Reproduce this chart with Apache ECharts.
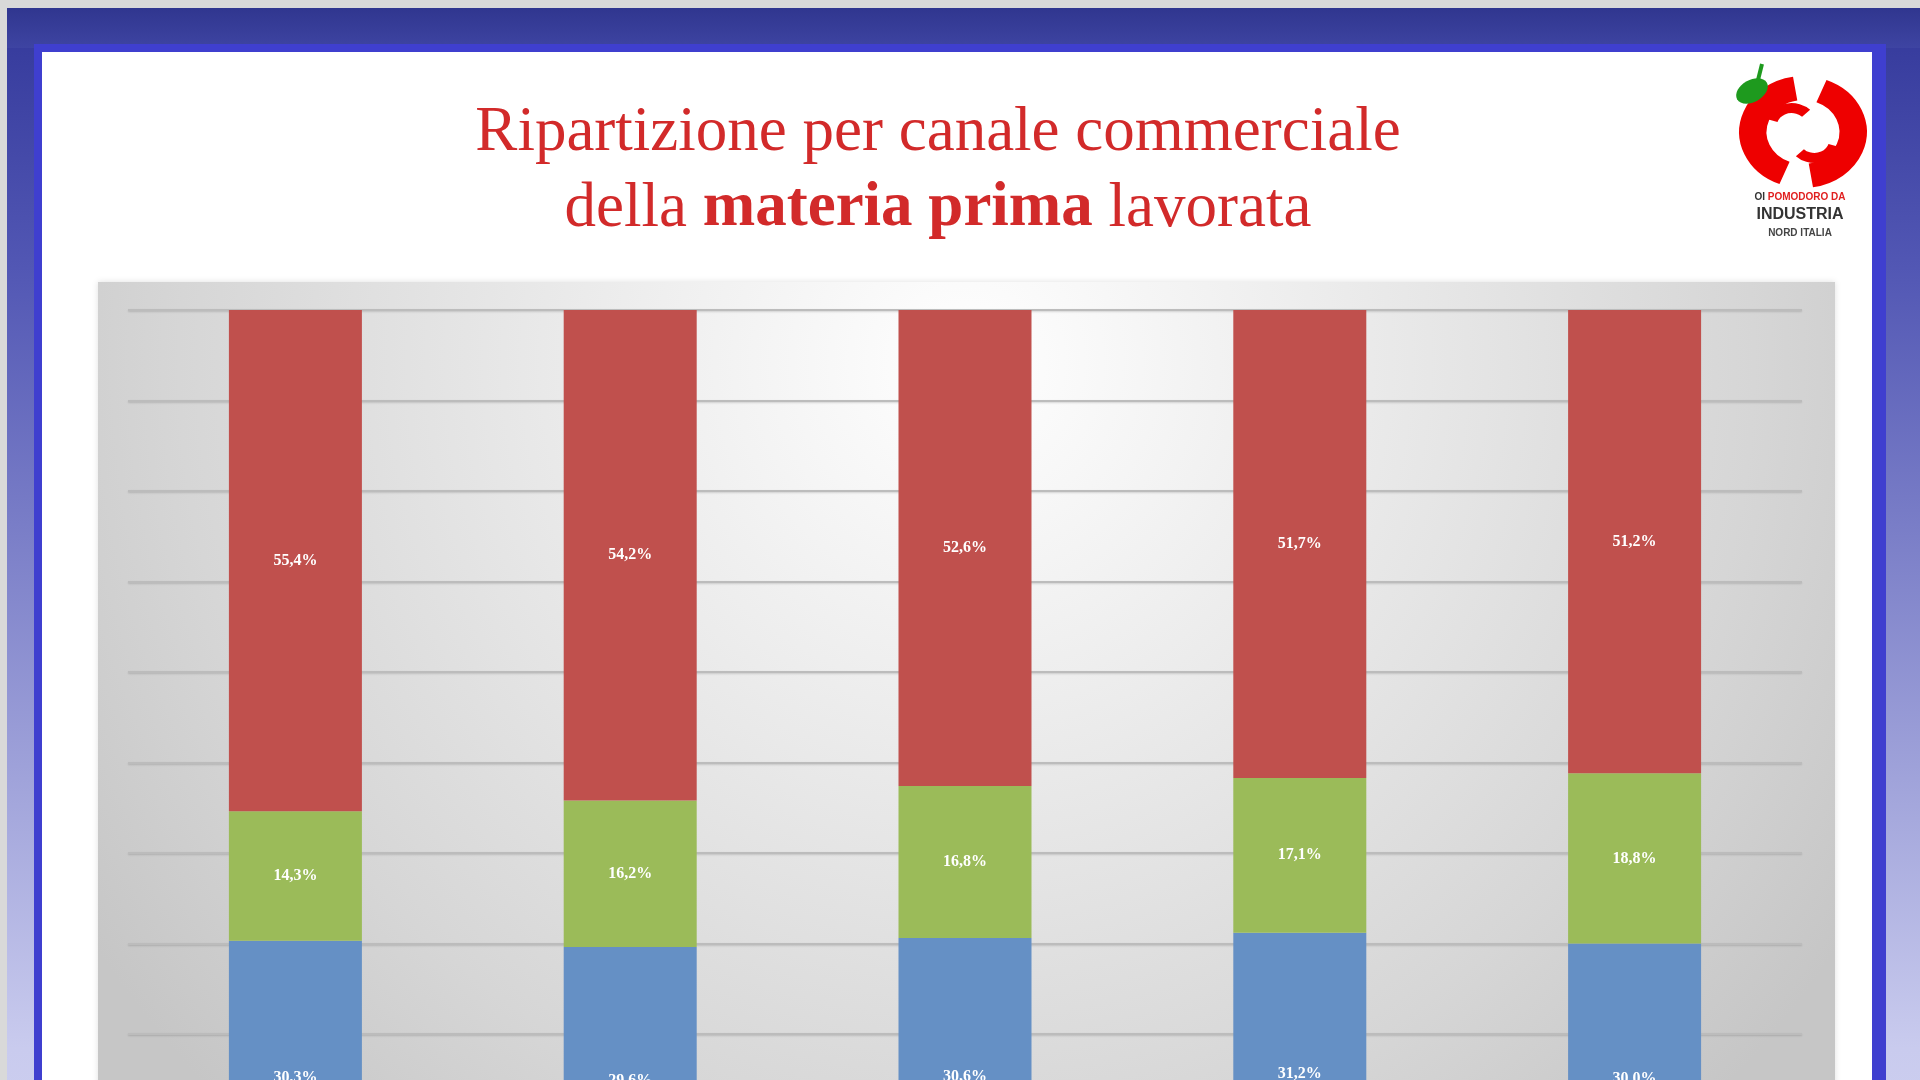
<!DOCTYPE html>
<html>
<head>
<meta charset="utf-8">
<script src="https://cdn.jsdelivr.net/npm/echarts@6/dist/echarts.min.js"></script>
<style>
  html, body { margin: 0; padding: 0; width: 1920px; height: 1080px; overflow: hidden; background: #d9d9d9; }
  #chart { width: 1920px; height: 1300px; }
</style>
</head>
<body>
<div id="chart"></div>
<script>
// ---- data ----
const categories = ['1', '2', '3', '4', '5'];
const seriesNames = ['Canale 1', 'Canale 2', 'Canale 3'];
const blueValues  = [30.3, 29.6, 30.6, 31.2, 30.0];
const greenValues = [14.3, 16.2, 16.8, 17.1, 18.8];
const redValues   = [55.4, 54.2, 52.6, 51.7, 51.2];
const titleLine1 = 'Ripartizione per canale commerciale';
const titleLine2a = 'della ';
const titleLine2b = 'materia prima';
const titleLine2c = ' lavorata';

const chart = echarts.init(document.getElementById('chart'), null, { renderer: 'canvas' });

const labelCfg = {
  show: true,
  position: 'inside',
  color: '#ffffff',
  fontFamily: 'Liberation Serif',
  fontWeight: 'bold',
  fontSize: 16,
  formatter: p => p.value.toFixed(1).replace('.', ',') + '%'
};

const serif = 'Liberation Serif, DejaVu Serif, serif';
const narrow = 'Liberation Sans Narrow, Liberation Sans, sans-serif';

const option = {
  backgroundColor: 'transparent',
  animation: false,
  graphic: {
    elements: [
      // outer frame
      { type: 'rect', z: -20, shape: { x: 7, y: 8, width: 1913, height: 1300 },
        style: { fill: new echarts.graphic.LinearGradient(0, 0, 0, 1, [
          { offset: 0, color: '#33389a' },
          { offset: 0.2, color: '#5257b4' },
          { offset: 0.8, color: '#c9cbee' },
          { offset: 1, color: '#d6d7f2' }
        ]) } },
      { type: 'rect', z: -19, shape: { x: 7, y: 8, width: 1913, height: 40 },
        style: { fill: new echarts.graphic.LinearGradient(0, 0, 0, 1, [
          { offset: 0, color: '#30368f' },
          { offset: 1, color: '#3e44a2' }
        ]) } },
      // bright inner blue line
      { type: 'rect', z: -18, shape: { x: 34, y: 44, width: 1852, height: 1300 },
        style: { fill: '#3f3fcf' } },
      // white slide
      { type: 'rect', z: -17, shape: { x: 42, y: 52, width: 1830, height: 1300 },
        style: { fill: '#ffffff' } },
      // plot box
      { type: 'rect', z: -16, shape: { x: 98, y: 282, width: 1737, height: 1000 },
        style: {
          fill: new echarts.graphic.RadialGradient(0.5, 0.08, 1.05, [
            { offset: 0, color: '#ffffff' },
            { offset: 0.35, color: '#ececec' },
            { offset: 0.75, color: '#d6d6d6' },
            { offset: 1, color: '#c6c6c6' }
          ]),
          shadowBlur: 6, shadowColor: 'rgba(0,0,0,0.12)'
        } },
      // title
      { type: 'text', z: 10, x: 938, y: 133,
        style: { text: titleLine1, font: '63px ' + serif, fill: '#d22a2a', align: 'center', verticalAlign: 'middle' } },
      { type: 'text', z: 10, x: 938, y: 209,
        style: {
          text: '{n|' + titleLine2a + '}{b|' + titleLine2b + '}{n|' + titleLine2c + '}',
          align: 'center', verticalAlign: 'middle', fill: '#d22a2a',
          rich: {
            n: { fontFamily: serif, fontSize: 63, fill: '#d22a2a' },
            b: { fontFamily: serif, fontSize: 63, fontWeight: 'bold', fill: '#d22a2a' }
          }
        } },
      // logo
      { type: 'group', z: 10, x: 1803, y: 132, scaleX: 1.14, scaleY: 1,
        children: [
          { type: 'arc', shape: { cx: 0, cy: 0, r: 44, startAngle: Math.PI * 0.62, endAngle: Math.PI * 1.45 },
            style: { stroke: '#ee0000', lineWidth: 24, fill: null } },
          { type: 'arc', shape: { cx: 0, cy: 0, r: 44, startAngle: Math.PI * 1.62, endAngle: Math.PI * 2.45 },
            style: { stroke: '#ee0000', lineWidth: 24, fill: null } },
          { type: 'arc', shape: { cx: -10, cy: -6, r: 18, startAngle: Math.PI * 1.1, endAngle: Math.PI * 1.75 },
            style: { stroke: '#ee0000', lineWidth: 10, fill: null } },
          { type: 'arc', shape: { cx: 10, cy: 8, r: 18, startAngle: Math.PI * 0.1, endAngle: Math.PI * 0.75 },
            style: { stroke: '#ee0000', lineWidth: 10, fill: null } }
        ] },
      { type: 'ellipse', z: 11, x: 1752, y: 91, rotation: 0.5,
        shape: { cx: 0, cy: 0, rx: 17, ry: 11 }, style: { fill: '#1e9a1e' } },
      { type: 'line', z: 11, shape: { x1: 1758, y1: 80, x2: 1762, y2: 64 },
        style: { stroke: '#1e9a1e', lineWidth: 4 } },
      { type: 'text', z: 11, x: 1800, y: 197,
        style: { text: '{k|OI }{r|POMODORO DA}', align: 'center', verticalAlign: 'middle',
          rich: {
            k: { fontFamily: narrow, fontSize: 10, fontWeight: 'bold', fill: '#333333' },
            r: { fontFamily: narrow, fontSize: 10, fontWeight: 'bold', fill: '#e02020' }
          } } },
      { type: 'text', z: 11, x: 1800, y: 215,
        style: { text: 'INDUSTRIA', font: 'bold 16px ' + narrow, fill: '#333333', align: 'center', verticalAlign: 'middle' } },
      { type: 'text', z: 11, x: 1800, y: 233,
        style: { text: 'NORD ITALIA', font: 'bold 10px ' + narrow, fill: '#444444', align: 'center', verticalAlign: 'middle' } }
    ]
  },
  grid: { left: 128, right: 118, top: 310, height: 905, containLabel: false },
  xAxis: {
    type: 'category',
    data: categories,
    axisLine: { show: false },
    axisTick: { show: false },
    axisLabel: { show: false }
  },
  yAxis: {
    type: 'value',
    min: 0, max: 100, interval: 10,
    axisLabel: { show: false },
    axisLine: { show: false },
    axisTick: { show: false },
    splitLine: { show: true, lineStyle: { color: '#bcbcbc', width: 2, shadowBlur: 2, shadowColor: 'rgba(0,0,0,0.15)', shadowOffsetY: 1 } }
  },
  series: [
    { name: seriesNames[0], type: 'bar', stack: 'a', barWidth: 133, data: blueValues,
      itemStyle: { color: '#6590c5' }, label: labelCfg },
    { name: seriesNames[1], type: 'bar', stack: 'a', barWidth: 133, data: greenValues,
      itemStyle: { color: '#9bbb59' }, label: labelCfg },
    { name: seriesNames[2], type: 'bar', stack: 'a', barWidth: 133, data: redValues,
      itemStyle: { color: '#c0504d' }, label: labelCfg }
  ]
};
chart.setOption(option);
</script>
</body>
</html>
